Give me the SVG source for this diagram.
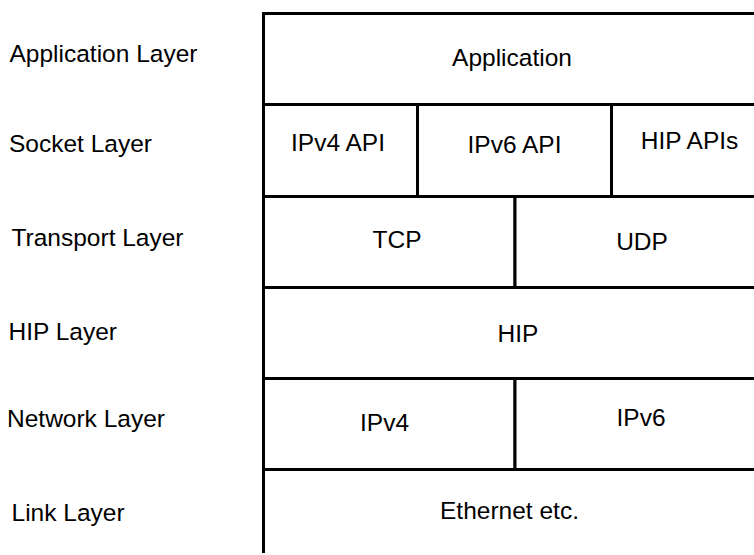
<svg xmlns="http://www.w3.org/2000/svg" width="754" height="555" viewBox="0 0 754 555">
<style>
  text { font-family: "Liberation Sans", Arial, sans-serif; font-size: 24.5px; fill: #000; }
  .c { text-anchor: middle; }
  .cell { fill: #fff; stroke: #000; stroke-width: 3; }
  .edge { fill: none; stroke: #000; stroke-width: 3; }
</style>
<rect width="754" height="555" fill="#fff"/>
<g id="layer-labels">
  <text x="9.5" y="62">Application Layer</text>
  <text x="9" y="152">Socket Layer</text>
  <text x="11.5" y="246">Transport Layer</text>
  <text x="8.5" y="340">HIP Layer</text>
  <text x="7" y="427">Network Layer</text>
  <text x="11.5" y="521">Link Layer</text>
</g>
<g id="node-application">
  <rect class="cell" x="263.5" y="13.5" width="500" height="91"/>
  <text class="c" x="512" y="66">Application</text>
</g>
<g id="node-ipv4api">
  <rect class="cell" x="263.5" y="104.5" width="154" height="92"/>
  <text class="c" x="338" y="151">IPv4 API</text>
</g>
<g id="node-ipv6api">
  <rect class="cell" x="417.5" y="104.5" width="194" height="92"/>
  <text class="c" x="514.5" y="153">IPv6 API</text>
</g>
<g id="node-hipapis">
  <rect class="cell" x="611.5" y="104.5" width="152" height="92"/>
  <text class="c" x="689.5" y="149">HIP APIs</text>
</g>
<g id="node-tcp">
  <rect class="cell" x="263.5" y="196.5" width="251.5" height="91"/>
  <text class="c" x="397" y="248">TCP</text>
</g>
<g id="node-udp">
  <rect class="cell" x="515" y="196.5" width="248.5" height="91"/>
  <text class="c" x="642" y="250">UDP</text>
</g>
<g id="node-hip">
  <rect class="cell" x="263.5" y="287.5" width="500" height="91"/>
  <text class="c" x="518" y="342">HIP</text>
</g>
<g id="node-ipv4">
  <rect class="cell" x="263.5" y="378.5" width="251.5" height="91"/>
  <text class="c" x="384.5" y="431">IPv4</text>
</g>
<g id="node-ipv6">
  <rect class="cell" x="515" y="378.5" width="248.5" height="91"/>
  <text class="c" x="641" y="426">IPv6</text>
</g>
<g id="node-ethernet">
  <path class="edge" d="M263.5 553 V469.5 H760"/>
  <text class="c" x="509.5" y="519">Ethernet etc.</text>
</g>
<g id="connectors"></g>
</svg>
